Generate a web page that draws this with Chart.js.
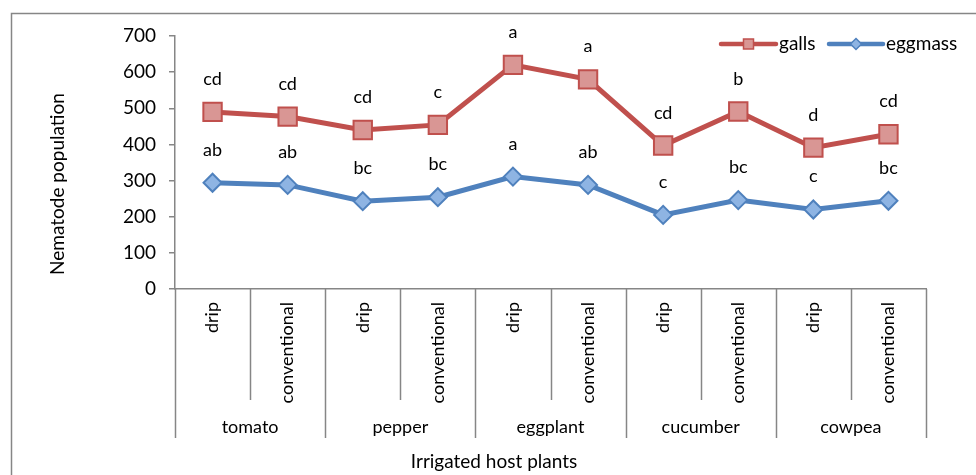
<!DOCTYPE html>
<html>
<head>
<meta charset="utf-8">
<script src="https://cdn.jsdelivr.net/npm/chart.js@4/dist/chart.umd.min.js"></script>
<style>
  html, body { margin: 0; padding: 0; background: #fff; }
  canvas { display: block; }
</style>
</head>
<body>
<canvas id="chart" width="976" height="475"></canvas>
<script>
// Host plants and irrigation methods (two-level x axis)
const hostPlants = ['tomato', 'pepper', 'eggplant', 'cucumber', 'cowpea'];
const methods = ['drip', 'conventional'];

// Series values
const galls = [490, 477, 440, 454, 620, 580, 397, 491, 391, 428];
const eggmass = [294, 288, 243, 254, 311, 288, 205, 246, 220, 244];

// Significance letters above each point
const gallsLetters = ['cd', 'cd', 'cd', 'c', 'a', 'a', 'cd', 'b', 'd', 'cd'];
const eggmassLetters = ['ab', 'ab', 'bc', 'bc', 'a', 'ab', 'c', 'bc', 'c', 'bc'];

const yTicks = [0, 100, 200, 300, 400, 500, 600, 700];

const FONT = 'Lato, "Open Sans", sans-serif';
const AXIS_GREY = '#868686';
const RED = '#c0504d';
const RED_FILL = '#d99694';
const BLUE = '#4f81bd';
const BLUE_FILL = '#8eb4e3';

const labels = [];
hostPlants.forEach(p => methods.forEach(m => labels.push(p + ' ' + m)));

// Frame, multi-level category axis, titles, letters and legend
const decorations = {
    id: 'decorations',
    beforeDraw(chart) {
        const ctx = chart.ctx;
        ctx.save();
        ctx.fillStyle = '#fff';
        ctx.fillRect(0, 0, chart.width, chart.height);
        ctx.strokeStyle = AXIS_GREY;
        ctx.lineWidth = 1.5;
        ctx.strokeRect(11.5, 13.5, chart.width + 10, chart.height + 10);
        ctx.restore();
    },
    afterDraw(chart) {
        const ctx = chart.ctx;
        const xs = chart.scales.x;
        const area = chart.chartArea;
        const n = labels.length;
        const step = (xs.right - xs.left) / n;

        ctx.save();
        // separators below the axis
        ctx.strokeStyle = AXIS_GREY;
        ctx.lineWidth = 1.5;
        for (let k = 0; k <= n; k++) {
            const x = Math.round(xs.left + k * step) + 0.5;
            const depth = k % 2 === 0 ? 149 : 111;
            ctx.beginPath();
            ctx.moveTo(x, area.bottom);
            ctx.lineTo(x, area.bottom + depth);
            ctx.stroke();
        }

        // method labels (rotated) and host plant labels
        ctx.fillStyle = '#000';
        ctx.font = '18px ' + FONT;
        labels.forEach((l, i) => {
            const x = xs.getPixelForValue(i);
            ctx.save();
            ctx.translate(x, area.bottom + 13);
            ctx.rotate(-Math.PI / 2);
            ctx.textAlign = 'right';
            ctx.textBaseline = 'middle';
            ctx.fillText(methods[i % 2], 0, 0);
            ctx.restore();
        });
        ctx.textAlign = 'center';
        ctx.textBaseline = 'middle';
        hostPlants.forEach((p, g) => {
            const x = xs.left + (g * 2 + 1) * step;
            ctx.fillText(p, x, area.bottom + 138);
        });

        // axis titles
        ctx.font = '19px ' + FONT;
        ctx.fillText('Irrigated host plants', 494, 462);
        ctx.save();
        ctx.translate(58, 184);
        ctx.rotate(-Math.PI / 2);
        ctx.fillText('Nematode population', 0, 0);
        ctx.restore();

        // letters above points
        ctx.font = '18px ' + FONT;
        ctx.textBaseline = 'alphabetic';
        [gallsLetters, eggmassLetters].forEach((letters, di) => {
            const meta = chart.getDatasetMeta(di);
            meta.data.forEach((pt, i) => {
                ctx.fillText(letters[i], pt.x, pt.y - 27);
            });
        });

        // legend: line + marker + text
        const drawEntry = (x0, x1, y, color, fill, style, text) => {
            ctx.strokeStyle = color;
            ctx.lineWidth = 4.5;
            ctx.lineCap = 'round';
            ctx.beginPath();
            ctx.moveTo(x0, y);
            ctx.lineTo(x1, y);
            ctx.stroke();
            ctx.lineWidth = 1.5;
            ctx.fillStyle = fill;
            const cx = (x0 + x1) / 2;
            ctx.beginPath();
            if (style === 'rect') {
                ctx.rect(cx - 5, y - 5, 10, 10);
            } else {
                ctx.moveTo(cx, y - 5.5);
                ctx.lineTo(cx + 5.5, y);
                ctx.lineTo(cx, y + 5.5);
                ctx.lineTo(cx - 5.5, y);
                ctx.closePath();
            }
            ctx.fill();
            ctx.stroke();
            ctx.fillStyle = '#000';
            ctx.font = '19px ' + FONT;
            ctx.textAlign = 'left';
            ctx.textBaseline = 'middle';
            ctx.fillText(text, x1 + 3, y);
        };
        drawEntry(721, 776, 44, RED, RED_FILL, 'rect', 'galls');
        drawEntry(829, 883, 44, BLUE, BLUE_FILL, 'diamond', 'eggmass');
        ctx.restore();
    }
};

new Chart(document.getElementById('chart'), {
    type: 'line',
    data: {
        labels: labels,
        datasets: [{
            label: 'galls',
            data: galls,
            borderColor: RED,
            borderWidth: 5,
            pointStyle: 'rect',
            pointRadius: 13,
            pointBackgroundColor: RED_FILL,
            pointBorderColor: RED,
            pointBorderWidth: 2,
            tension: 0
        }, {
            label: 'eggmass',
            data: eggmass,
            borderColor: BLUE,
            borderWidth: 5,
            pointStyle: 'rectRot',
            pointRadius: 9,
            pointBackgroundColor: BLUE_FILL,
            pointBorderColor: BLUE,
            pointBorderWidth: 2,
            tension: 0
        }]
    },
    options: {
        responsive: false,
        animation: false,
        events: [],
        layout: { padding: { left: 0, right: 50, top: 36, bottom: 0 } },
        plugins: {
            legend: { display: false },
            tooltip: { enabled: false }
        },
        scales: {
            x: {
                type: 'category',
                offset: true,
                grid: { display: false },
                border: { color: AXIS_GREY, width: 1.5 },
                ticks: { display: false },
                afterFit: (scale) => { scale.height = 186; }
            },
            y: {
                min: 0,
                max: 700,
                afterBuildTicks: (scale) => { scale.ticks = yTicks.map(v => ({ value: v })); },
                grid: { drawOnChartArea: false, drawTicks: true, tickLength: 6, color: AXIS_GREY, lineWidth: 1.5 },
                border: { color: AXIS_GREY, width: 1.5 },
                ticks: { color: '#000', padding: 13, font: { family: FONT, size: 19 } },
                afterFit: (scale) => { scale.width = 175; }
            }
        }
    },
    plugins: [decorations]
});
</script>
</body>
</html>
